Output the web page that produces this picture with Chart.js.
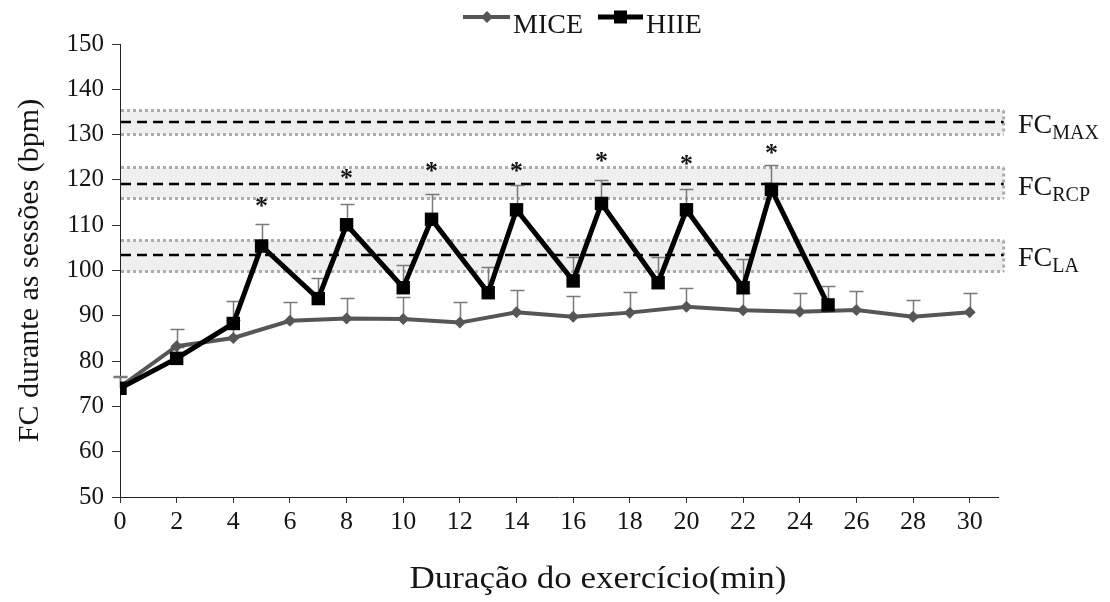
<!DOCTYPE html>
<html><head><meta charset="utf-8">
<script src="https://cdn.jsdelivr.net/npm/chart.js@4/dist/chart.umd.min.js"></script>
<style>html,body{margin:0;padding:0;background:#fff}canvas{display:block}</style>
</head><body>
<canvas id="c" width="1110" height="602"></canvas>
<script>
// ---- data ----
const miceMinutes = [0, 2, 4, 6, 8, 10, 12, 14, 16, 18, 20, 22, 24, 26, 28, 30];
const miceHR      = [74.3, 83.3, 85.1, 88.9, 89.4, 89.3, 88.5, 90.8, 89.8, 90.7, 92.0, 91.2, 90.9, 91.3, 89.8, 90.8];
const miceSD      = [2.4, 3.8, 4.0, 4.1, 4.6, 4.8, 4.5, 4.8, 4.6, 4.6, 4.2, 3.8, 4.2, 4.2, 3.7, 4.2];

const hiieMinutes = [0, 2, 4, 5, 7, 8, 10, 11, 13, 14, 16, 17, 19, 20, 22, 23, 25];
const hiieHR      = [74.0, 80.6, 88.3, 105.4, 93.8, 110.1, 96.2, 111.3, 95.1, 113.4, 97.7, 114.8, 97.3, 113.4, 96.2, 117.9, 92.4];
const hiieSD      = [2.5, 2.5, 5.0, 4.9, 4.6, 4.6, 5.1, 5.5, 5.7, 5.5, 5.2, 5.2, 5.6, 4.5, 6.3, 5.3, 4.2];

const starMinutes = [5, 8, 11, 14, 17, 20, 23];
const starHR      = [115.6, 121.7, 123.3, 123.3, 125.5, 124.8, 127.3];

const zoneNames = ['MAX', 'RCP', 'LA'];
const zoneMid   = [132.7, 119.0, 103.4];
const zoneLow   = [130.2, 115.9, 99.9];
const zoneHigh  = [135.4, 122.8, 106.7];

const xTickValues = [0, 2, 4, 6, 8, 10, 12, 14, 16, 18, 20, 22, 24, 26, 28, 30];
const yTickValues = [50, 60, 70, 80, 90, 100, 110, 120, 130, 140, 150];

const seriesNames = ['HIIE', 'MICE'];
const xTitle = 'Duração do exercício(min)';
const yTitle = 'FC durante as sessões (bpm)';

// ---- drawing ----
const SERIF = '"Liberation Serif", "Times New Roman", serif';
const TXT = '#151515';
const MICE_COLOR = '#565656';

const overlay = {
  id: 'overlay',
  beforeDatasetsDraw(chart) {
    const {ctx, chartArea: a, scales: {x, y}} = chart;
    const xr = x.getPixelForValue(31.2);
    ctx.save();
    for (let i = 0; i < zoneMid.length; i++) {
      const yh = Math.round(y.getPixelForValue(zoneHigh[i])) + 0.5;
      const yl = Math.round(y.getPixelForValue(zoneLow[i])) + 0.5;
      const ym = Math.round(y.getPixelForValue(zoneMid[i]));
      ctx.fillStyle = '#efefef';
      ctx.fillRect(a.left + 1, yh, xr - a.left - 1, yl - yh);
      ctx.strokeStyle = '#acacac'; ctx.lineWidth = 3; ctx.setLineDash([3, 3]);
      ctx.beginPath();
      ctx.moveTo(a.left + 1, yh); ctx.lineTo(xr, yh);
      ctx.moveTo(a.left + 1, yl); ctx.lineTo(xr, yl);
      ctx.moveTo(xr, yh); ctx.lineTo(xr, yl);
      ctx.stroke();
      ctx.strokeStyle = '#000'; ctx.lineWidth = 2.5; ctx.setLineDash([10, 6]);
      ctx.beginPath(); ctx.moveTo(a.left + 1, ym); ctx.lineTo(xr, ym); ctx.stroke();
    }
    ctx.setLineDash([]);
    ctx.strokeStyle = '#7a7a7a'; ctx.lineWidth = 1.5;
    chart.data.datasets.forEach(ds => {
      if (!ds.sd) return;
      ds.data.forEach((p, i) => {
        const px = Math.round(x.getPixelForValue(p.x)) + 0.5;
        const py = y.getPixelForValue(p.y);
        const pt = Math.round(y.getPixelForValue(p.y + ds.sd[i])) + 0.5;
        ctx.beginPath();
        ctx.moveTo(px, py); ctx.lineTo(px, pt);
        ctx.moveTo(px - 7, pt); ctx.lineTo(px + 7, pt);
        ctx.stroke();
      });
    });
    ctx.restore();
  },
  afterDatasetsDraw(chart) {
    const {ctx, scales: {x, y}} = chart;
    ctx.save();
    ctx.fillStyle = TXT;
    ctx.font = 'bold 26px ' + SERIF;
    ctx.textAlign = 'center';
    ctx.textBaseline = 'alphabetic';
    starMinutes.forEach((m, i) => {
      ctx.fillText('*', x.getPixelForValue(m), y.getPixelForValue(starHR[i]) + 14);
    });
    ctx.restore();
  },
  afterDraw(chart) {
    const {ctx, scales: {x, y}} = chart;
    ctx.save();
    ctx.fillStyle = TXT;
    ctx.textBaseline = 'alphabetic';
    ctx.textAlign = 'left';
    // zone labels
    zoneNames.forEach((n, i) => {
      const base = y.getPixelForValue(zoneMid[i]) + 11;
      ctx.font = '28px ' + SERIF;
      ctx.fillText('FC', 1018, base);
      const w = ctx.measureText('FC').width;
      ctx.font = '20px ' + SERIF;
      ctx.fillText(n, 1018 + w, base + 6);
    });
    // legend
    const ly = 17;
    ctx.strokeStyle = MICE_COLOR; ctx.lineWidth = 4;
    ctx.beginPath(); ctx.moveTo(463, ly); ctx.lineTo(510, ly); ctx.stroke();
    ctx.fillStyle = MICE_COLOR;
    ctx.beginPath(); ctx.moveTo(487, ly - 6); ctx.lineTo(493, ly); ctx.lineTo(487, ly + 6); ctx.lineTo(481, ly); ctx.closePath(); ctx.fill();
    ctx.strokeStyle = '#000'; ctx.lineWidth = 5;
    ctx.beginPath(); ctx.moveTo(598, ly); ctx.lineTo(643, ly); ctx.stroke();
    ctx.fillStyle = '#000';
    ctx.fillRect(614, ly - 6.5, 13, 13);
    ctx.fillStyle = TXT;
    ctx.font = '28px ' + SERIF;
    ctx.fillText(seriesNames[1], 513, 33);
    ctx.fillText(seriesNames[0], 646, 33);
    // x title
    ctx.font = '31px ' + SERIF;
    const tw = ctx.measureText(xTitle).width;
    ctx.translate(598, 588);
    ctx.scale(377 / tw, 1);
    ctx.textAlign = 'center';
    ctx.fillText(xTitle, 0, 0);
    ctx.restore();
  }
};

new Chart(document.getElementById('c'), {
  type: 'line',
  data: {
    datasets: [
      {
        label: seriesNames[0],
        data: hiieMinutes.map((m, i) => ({x: m, y: hiieHR[i]})),
        sd: hiieSD,
        borderColor: '#000', backgroundColor: '#000',
        borderWidth: 5, tension: 0,
        pointStyle: 'rect', pointRadius: 9.5, pointBorderWidth: 0,
        pointBackgroundColor: '#000'
      },
      {
        label: seriesNames[1],
        data: miceMinutes.map((m, i) => ({x: m, y: miceHR[i]})),
        sd: miceSD,
        borderColor: MICE_COLOR, backgroundColor: MICE_COLOR,
        borderWidth: 4, tension: 0,
        pointStyle: 'rectRot', pointRadius: 6, pointBorderWidth: 0,
        pointBackgroundColor: MICE_COLOR
      }
    ]
  },
  options: {
    responsive: false,
    animation: false,
    devicePixelRatio: 1,
    layout: {padding: {top: 44, right: 112, bottom: 0, left: 0}},
    plugins: {legend: {display: false}, tooltip: {enabled: false}},
    scales: {
      x: {
        type: 'linear', min: 0, max: 31,
        afterBuildTicks: s => { s.ticks = xTickValues.map(v => ({value: v})); },
        afterFit: s => { s.height = 105; },
        grid: {drawOnChartArea: false, color: '#333', tickLength: 6, lineWidth: 1},
        border: {display: true, color: '#222', width: 1},
        ticks: {font: {family: SERIF, size: 26}, color: TXT, padding: 4, maxRotation: 0, autoSkip: false}
      },
      y: {
        min: 50, max: 150,
        afterBuildTicks: s => { s.ticks = yTickValues.map(v => ({value: v})); },
        afterFit: s => { s.width = 120; },
        grid: {drawOnChartArea: false, color: '#333', tickLength: 8, lineWidth: 1},
        border: {display: true, color: '#222', width: 1},
        ticks: {font: {family: SERIF, size: 25}, color: TXT, padding: 8},
        title: {display: true, text: yTitle, font: {family: SERIF, size: 30}, color: TXT, padding: {top: 12, bottom: 0}}
      }
    }
  },
  plugins: [overlay]
});
</script>
</body></html>
